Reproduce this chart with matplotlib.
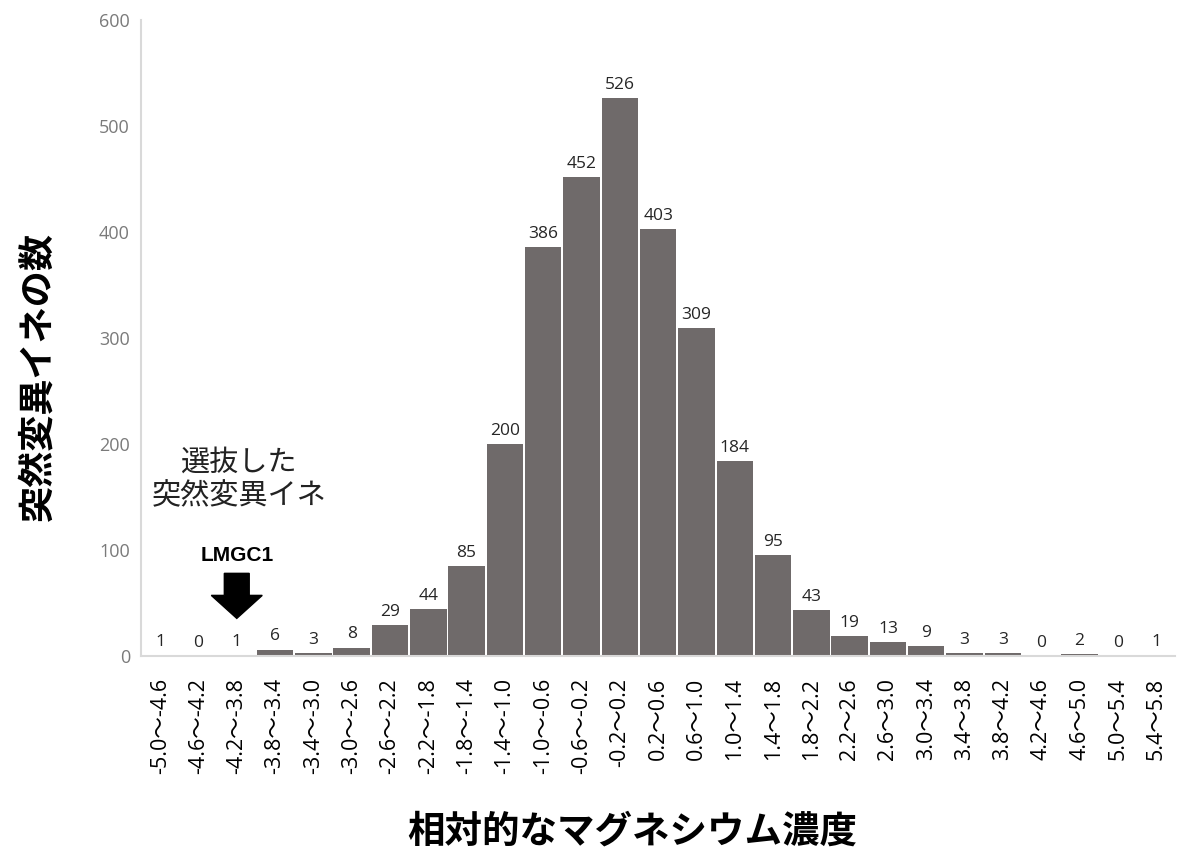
import matplotlib
matplotlib.use("Agg")
import matplotlib.pyplot as plt
import numpy as np

# --- Datos ---
bins = ["-5.0～-4.6", "-4.6～-4.2", "-4.2～-3.8", "-3.8～-3.4", "-3.4～-3.0",
        "-3.0～-2.6", "-2.6～-2.2", "-2.2～-1.8", "-1.8～-1.4", "-1.4～-1.0",
        "-1.0～-0.6", "-0.6～-0.2", "-0.2～0.2", "0.2～0.6", "0.6～1.0",
        "1.0～1.4", "1.4～1.8", "1.8～2.2", "2.2～2.6", "2.6～3.0",
        "3.0～3.4", "3.4～3.8", "3.8～4.2", "4.2～4.6", "4.6～5.0",
        "5.0～5.4", "5.4～5.8"]
counts = [1, 0, 1, 6, 3, 8, 29, 44, 85, 200, 386, 452, 526, 403, 309,
          184, 95, 43, 19, 13, 9, 3, 3, 0, 2, 0, 1]
yticks = [0, 100, 200, 300, 400, 500, 600]
selected_idx = 2  # LMGC1

JP = ["Noto Sans CJK JP", "DejaVu Sans"]
NUM = ["Open Sans", "Noto Sans CJK JP", "DejaVu Sans"]

fig = plt.figure(figsize=(11.78, 8.58), dpi=100)
ax = fig.add_axes([0.1197, 0.2354, 0.8780, 0.7413])

x = np.arange(len(bins))
ax.bar(x, counts, width=0.95, color="#6f6a6a", edgecolor="none")

for xi, c in zip(x, counts):
    ax.text(xi, c + 5, str(c), ha="center", va="bottom", fontsize=12.5,
            fontweight="medium", color="#262626", family=NUM)

ax.set_xlim(-0.5, len(bins) - 0.5)
ax.set_ylim(0, 600)
ax.set_yticks(yticks)
ax.set_yticklabels([str(v) for v in yticks], family=NUM, fontsize=13, color="#7a7a7a")
ax.set_xticks(x)
ax.set_xticklabels(bins, rotation=90, family=NUM, fontsize=15.5, color="#000000")
ax.tick_params(axis="both", length=0)
ax.tick_params(axis="x", pad=16)
ax.tick_params(axis="y", pad=8)

for s in ["top", "right"]:
    ax.spines[s].set_visible(False)
ax.spines["left"].set_color("#d9d9d9")
ax.spines["bottom"].set_color("#d9d9d9")
ax.spines["left"].set_linewidth(1.5)
ax.spines["bottom"].set_linewidth(1.5)

ax.set_ylabel("突然変異イネの数", family=JP, fontsize=26, fontweight="bold")
ax.set_xlabel("相対的なマグネシウム濃度", family=JP, fontsize=27, fontweight="bold")
ax.yaxis.set_label_coords(-0.082, 0.439)
ax.xaxis.set_label_coords(0.475, -0.245)

# Anotación del mutante seleccionado
ax.text(selected_idx + 0.05, 167, "選抜した\n突然変異イネ", ha="center", va="center",
        family=JP, fontsize=21, color="#222222", linespacing=1.15)
ax.text(selected_idx + 0.0, 95, "LMGC1", ha="center", va="center",
        family=["Liberation Sans", "DejaVu Sans"], fontsize=15, fontweight="bold")
ax.arrow(selected_idx, 78, 0, -42.5, width=0.65, head_width=1.33,
         head_length=21.7, length_includes_head=True, color="black")

fig.savefig("out.png", dpi=100)
